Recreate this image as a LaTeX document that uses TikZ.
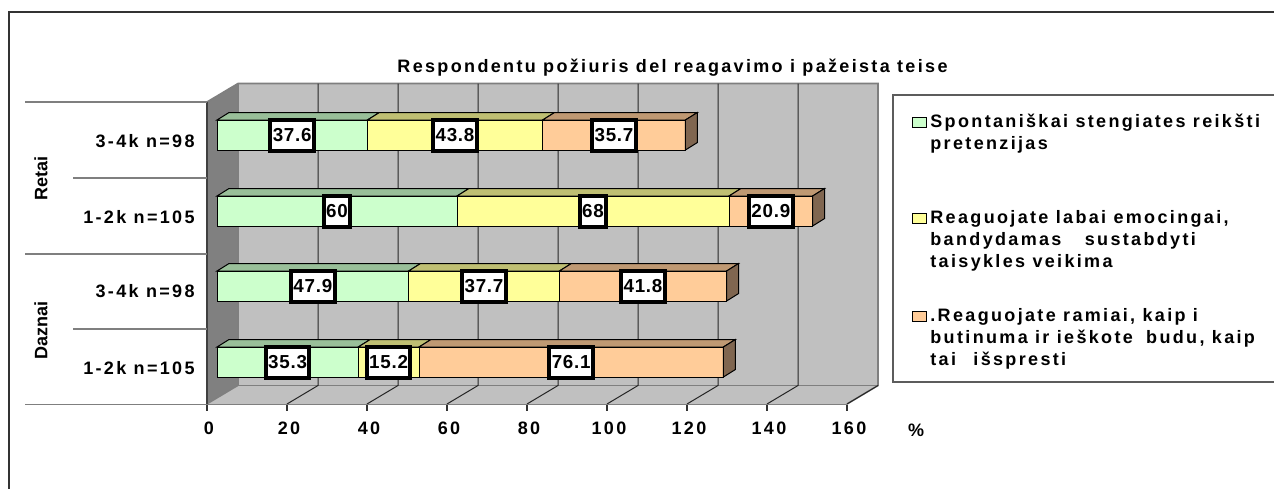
\documentclass[tikz,border=0pt]{standalone}
\usepackage{fontspec}
\setmainfont{Liberation Sans}
\newfontfamily\widesp{Liberation Sans}[LetterSpace=13]
\newfontfamily\tightsp{Liberation Sans}[LetterSpace=4]
\definecolor{wallgray}{HTML}{C0C0C0}
\definecolor{sidegray}{HTML}{808080}
\definecolor{edgegray}{HTML}{7F7F7F}
\definecolor{framec}{HTML}{333333}
\definecolor{greenF}{HTML}{CCFFCC}
\definecolor{greenT}{HTML}{99BF99}
\definecolor{yellowF}{HTML}{FFFF99}
\definecolor{yellowT}{HTML}{BFBF73}
\definecolor{orangeF}{HTML}{FFCC99}
\definecolor{orangeT}{HTML}{BF9973}
\definecolor{orangeS}{HTML}{806650}
\newcommand\barseg[5]{%
  \filldraw[fill=#5, draw=black, line width=0.5pt] (#1,#3-15) -- (#2,#3-15) -- (#2+12,#3-22.5) -- (#1+12,#3-22.5) -- cycle;
  \filldraw[fill=#4, draw=black, line width=0.5pt] (#1,#3-15) rectangle (#2,#3+15);
}
\newcommand\barcap[2]{%
  \filldraw[fill=orangeS, draw=black, line width=0.5pt] (#1,#2-15) -- (#1+12,#2-22.5) -- (#1+12,#2+7.5) -- (#1,#2+15) -- cycle;
}
\tikzset{
  dlab/.style={draw=black, line width=2pt, fill=white, inner xsep=1.2pt, inner ysep=0pt,
    minimum height=15.5pt, font=\tightsp\bfseries\fontsize{9.4pt}{10pt}\selectfont},
  catlab/.style={anchor=east, inner sep=0pt, font=\widesp\bfseries\fontsize{9pt}{10pt}\selectfont},
  grplab/.style={rotate=90, inner sep=0pt, font=\bfseries\fontsize{9pt}{10pt}\selectfont},
  axlab/.style={inner sep=0pt, font=\widesp\bfseries\fontsize{9pt}{10pt}\selectfont},
  ttl/.style={anchor=base, inner sep=0pt, font=\widesp\bfseries\fontsize{9pt}{10pt}\selectfont},
  legtxt/.style={anchor=base west, inner sep=0pt, font=\widesp\bfseries\fontsize{9pt}{10pt}\selectfont},
  legkey/.style={draw=black, line width=0.5pt},
  sepline/.style={draw=edgegray, line width=0.8pt},
  gridl/.style={draw=black!85, line width=0.5pt}
}
\begin{document}
\begin{tikzpicture}[x=0.5pt,y=-0.5pt]
\useasboundingbox (0,0) rectangle (1274,488);
\fill[white] (0,0) rectangle (1274,488);
% outer frame
\draw[framec, line width=1pt] (9,600) -- (9,12) -- (1300,12);
% title
\node[ttl] (title) at (672.5,72.5) {Respondentu požiuris del reagavimo i pažeista teise};
% walls
\fill[wallgray] (238,83.5) rectangle (878,385.5);
\fill[sidegray] (207,102) -- (238,83.5) -- (238,385.5) -- (207,404) -- cycle;
\fill[wallgray] (207,404) -- (238,385.5) -- (878,385.5) -- (847,404) -- cycle;
\draw[edgegray, line width=0.8pt] (207,102) -- (238,83.5) -- (878,83.5) -- (878,385.5) -- (847,404);
\draw[edgegray, line width=0.6pt] (238,83.5) -- (238,385.5) -- (878,385.5);
\draw[edgegray, line width=0.6pt] (238,385.5) -- (207,404);
\foreach \k in {1,...,7} {
  \draw[gridl] (238+80*\k,83.5) -- (238+80*\k,385.5) -- (207+80*\k,404);
}
\draw[gridl] (878,385.5) -- (847,404);
\draw[black!75, line width=0.8pt] (207,102) -- (207,404);
% front axis and separators
\draw[sepline] (25,404.5) -- (847,404.5);
\draw[sepline] (25,102) -- (207,102);
\draw[sepline] (73,178) -- (207,178);
\draw[sepline] (25,254) -- (207,254);
\draw[sepline] (73,329) -- (207,329);
\foreach \k in {0,...,8} {
  \draw[black!80, line width=0.6pt] (207+80*\k,404.5) -- (207+80*\k,411);
  \pgfmathtruncatemacro\v{20*\k}
  \node[axlab] (t\k) at (209+80*\k,428) {\v};
}
\node[axlab] (pct) at (916,430) {\%};
% bars row 1 (Retai 3-4k)
\barseg{217}{367.4}{135}{greenF}{greenT}
\barseg{367.4}{542.6}{135}{yellowF}{yellowT}
\barseg{542.6}{685.4}{135}{orangeF}{orangeT}
\barcap{685.4}{135}
% row 2 (Retai 1-2k)
\barseg{217}{457}{211}{greenF}{greenT}
\barseg{457}{729}{211}{yellowF}{yellowT}
\barseg{729}{812.6}{211}{orangeF}{orangeT}
\barcap{812.6}{211}
% row 3 (Daznai 3-4k)
\barseg{217}{408.6}{286}{greenF}{greenT}
\barseg{408.6}{559.4}{286}{yellowF}{yellowT}
\barseg{559.4}{726.6}{286}{orangeF}{orangeT}
\barcap{726.6}{286}
% row 4 (Daznai 1-2k)
\barseg{217}{358.2}{362}{greenF}{greenT}
\barseg{358.2}{419}{362}{yellowF}{yellowT}
\barseg{419}{723.4}{362}{orangeF}{orangeT}
\barcap{723.4}{362}
% data labels
\node[dlab] (l11) at (292.2,135.5) {37.6};
\node[dlab] (l12) at (455,135.5) {43.8};
\node[dlab] (l13) at (614,135.5) {35.7};
\node[dlab] (l21) at (337,211.5) {60};
\node[dlab] (l22) at (593,211.5) {68};
\node[dlab] (l23) at (770.8,211.5) {20.9};
\node[dlab] (l31) at (312.8,286.5) {47.9};
\node[dlab] (l32) at (484,286.5) {37.7};
\node[dlab] (l33) at (643,286.5) {41.8};
\node[dlab] (l41) at (287.6,362.5) {35.3};
\node[dlab] (l42) at (388.6,362.5) {15.2};
\node[dlab] (l43) at (571.2,362.5) {76.1};
% category labels
\node[catlab] (c1) at (195,141) {3-4k n=98};
\node[catlab] (c2) at (195,217) {1-2k n=105};
\node[catlab] (c3) at (195,291.5) {3-4k n=98};
\node[catlab] (c4) at (195,368.5) {1-2k n=105};
\node[grplab] (g1) at (41,178) {Retai};
\node[grplab] (g2) at (41,330) {Daznai};
% legend
\draw[framec!80, line width=0.8pt] (893,95) rectangle (1300,382);
\filldraw[legkey, fill=greenF] (912,117) rectangle (926,127);
\filldraw[legkey, fill=yellowF] (912,213) rectangle (926,223);
\filldraw[legkey, fill=orangeF] (912,311) rectangle (926,321);
\node[legtxt] (e1a) at (930,127) {Spontaniškai stengiates reikšti};
\node[legtxt] (e1b) at (930,149) {pretenzijas};
\node[legtxt] (e2a) at (930,223) {Reaguojate labai emocingai,};
\node[legtxt] (e2b) at (930,245) {bandydamas\hspace{8pt} sustabdyti};
\node[legtxt] (e2c) at (930,267) {taisykles veikima};
\node[legtxt] (e3a) at (930,321) {.Reaguojate ramiai, kaip i};
\node[legtxt] (e3b) at (930,343) {butinuma ir ieškote\hspace{3pt} budu, kaip};
\node[legtxt] (e3c) at (930,365) {tai\hspace{5pt} išspresti};
\end{tikzpicture}
\end{document}
